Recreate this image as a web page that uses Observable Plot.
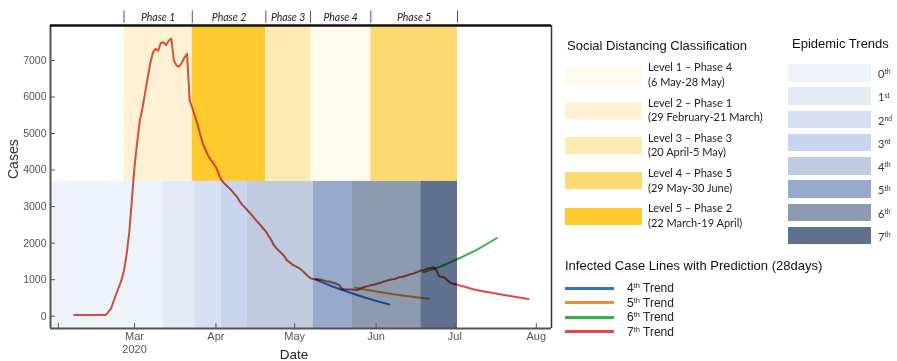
<!DOCTYPE html>
<html><head><meta charset="utf-8">
<script src="https://cdn.jsdelivr.net/npm/d3@7"></script>
<script src="https://cdn.jsdelivr.net/npm/@observablehq/plot@0.6"></script>
<style>
body{margin:0;background:#fff;}
#wrap{position:relative;width:897px;height:361px;overflow:hidden;font-family:"Liberation Sans",Arial,sans-serif;}
#chart{position:absolute;left:0;top:0;}
.title{position:absolute;font-size:13px;color:#111;white-space:nowrap;line-height:1;}
.sw{position:absolute;}
.lvl{position:absolute;font-family:Lato,"Open Sans",sans-serif;font-size:11px;line-height:14.6px;color:#222;white-space:nowrap;}
.tr{position:absolute;font-family:Lato,"Open Sans",sans-serif;font-size:11px;color:#333;white-space:nowrap;line-height:1;}
.ln{position:absolute;height:3px;}
.lnt{position:absolute;font-size:12px;color:#222;white-space:nowrap;line-height:1;}
sup{font-size:0.62em;line-height:0;vertical-align:baseline;position:relative;top:-0.55em;}
</style></head><body><div id="wrap"><div id="chart"></div><div id="legend"></div></div>
<script>
// ---- data ----
const caseDates = ["2020-02-07","2020-02-19","2020-02-21","2020-02-23","2020-02-25","2020-02-26","2020-02-27","2020-02-28","2020-02-29",
"2020-03-01","2020-03-02","2020-03-03","2020-03-04","2020-03-05","2020-03-06","2020-03-07","2020-03-08","2020-03-09","2020-03-10",
"2020-03-11","2020-03-12","2020-03-13","2020-03-14","2020-03-15","2020-03-16","2020-03-17","2020-03-18","2020-03-19","2020-03-20",
"2020-03-21","2020-03-22","2020-03-23","2020-03-24","2020-03-25","2020-03-26","2020-03-27","2020-03-28","2020-03-29","2020-03-30",
"2020-03-31","2020-04-01","2020-04-02","2020-04-03","2020-04-04","2020-04-05","2020-04-06","2020-04-07","2020-04-08","2020-04-09",
"2020-04-10","2020-04-11","2020-04-12","2020-04-13","2020-04-14","2020-04-15","2020-04-16","2020-04-17","2020-04-18","2020-04-19",
"2020-04-20","2020-04-21","2020-04-22","2020-04-23","2020-04-24","2020-04-25","2020-04-26","2020-04-27","2020-04-28","2020-04-29",
"2020-04-30","2020-05-01","2020-05-02","2020-05-03","2020-05-04","2020-05-05","2020-05-06","2020-05-07","2020-05-08","2020-05-09",
"2020-05-10","2020-05-11","2020-05-12","2020-05-13","2020-05-14","2020-05-15","2020-05-16","2020-05-17","2020-05-18","2020-05-19",
"2020-05-20","2020-05-21","2020-05-22","2020-05-23","2020-05-24","2020-05-25","2020-05-26","2020-05-27","2020-05-28","2020-05-29",
"2020-05-30","2020-05-31","2020-06-01","2020-06-02","2020-06-03","2020-06-04","2020-06-05","2020-06-06","2020-06-07","2020-06-08",
"2020-06-09","2020-06-10","2020-06-11","2020-06-12","2020-06-13","2020-06-14","2020-06-15","2020-06-16","2020-06-17","2020-06-18",
"2020-06-19","2020-06-20","2020-06-21","2020-06-22","2020-06-23","2020-06-24","2020-06-25","2020-06-26","2020-06-27","2020-06-28",
"2020-06-29","2020-06-30","2020-07-01"];
const caseValues = [30,30,200,600,980,1250,1700,2300,3200,
4100,4750,5350,5680,6100,6520,6920,7220,7320,7270,
7480,7500,7420,7540,7600,7000,6860,6830,6940,7080,
7180,5900,5700,5480,5250,4980,4720,4560,4400,4280,
4190,4080,3900,3740,3650,3580,3510,3440,3350,3270,
3150,3050,2980,2900,2820,2740,2650,2570,2490,2400,
2320,2200,2100,1950,1860,1790,1720,1650,1530,1480,
1420,1380,1340,1300,1240,1170,1100,1040,1020,1010,
1010,1000,980,960,950,930,910,880,850,750,
730,730,730,730,720,720,760,790,810,830,
850,860,880,900,920,950,970,990,1010,1020,
1040,1070,1080,1100,1120,1150,1160,1190,1220,1250,
1260,1290,1310,1320,1340,1250,1090,1070,1060,990,
930,900,870];

const trend4Dates = ["2020-05-09","2020-05-16","2020-05-23","2020-05-30","2020-06-06"];
const trend4Values = [1005,800,620,460,320];
const trend5Dates = ["2020-05-24","2020-05-31","2020-06-07","2020-06-14","2020-06-21"];
const trend5Values = [780,690,610,540,477];
const trend6Dates = ["2020-06-19","2020-06-26","2020-07-03","2020-07-10","2020-07-17"];
const trend6Values = [1205,1370,1600,1845,2140];
const trend7Dates = ["2020-07-01","2020-07-08","2020-07-15","2020-07-22","2020-07-29"];
const trend7Values = [880,740,640,550,470];

const phaseNames = ["Phase 1","Phase 2","Phase 3","Phase 4","Phase 5"];
const phaseStarts = ["2020-02-26","2020-03-23","2020-04-20","2020-05-07","2020-05-30"];
const phaseEnds   = ["2020-03-23","2020-04-20","2020-05-07","2020-05-30","2020-07-02"];
const phaseColors = ["#fff2d4","#ffca2f","#ffe9b2","#fffaec","#fdd972"];

const trendNames  = ["0th","1st","2nd","3rd","4th","5th","6th","7th"];
const trendStarts = ["2020-01-29","2020-03-12","2020-03-24","2020-04-03","2020-04-13","2020-05-08","2020-05-23","2020-06-18"];
const trendEnds   = ["2020-03-12","2020-03-24","2020-04-03","2020-04-13","2020-05-08","2020-05-23","2020-06-18","2020-07-02"];
const trendColors = ["#eef2fa","#e3e9f5","#d6e0f2","#c8d5ef","#c0cbe0","#97aacb","#8d9bb1","#60708f"];

const levelLabels = ["Level 1 \u2013 Phase 4","Level 2 \u2013 Phase 1","Level 3 \u2013 Phase 3","Level 4 \u2013 Phase 5","Level 5 \u2013 Phase 2"];
const levelRanges = ["(6 May-28 May)","(29 February-21 March)","(20 April-5 May)","(29 May-30 June)","(22 March-19 April)"];
const levelColors = ["#fffaec","#fff2d4","#ffe9b2","#fdd972","#ffca2f"];

const predNames  = ["4","5","6","7"];
const predColors = ["#2e78b9","#f28a36","#3cae4a","#e5464a"];
const mainColor = "#d4573f";

const yTicks = [0,1000,2000,3000,4000,5000,6000,7000];
const xTickDates = ["2020-02-01","2020-03-01","2020-04-01","2020-05-01","2020-06-01","2020-07-01","2020-08-01"];
const xTickLabels = ["","Mar\n2020","Apr","May","Jun","Jul","Aug"];

const xDomain = [new Date("2020-01-29"), new Date("2020-08-06T19:00Z")];
const yDomain = [-337, 7958];
const bandSplit = 3690;

// ---- build ----
const P = s => new Date(s);
const mk = (ds,vs)=>ds.map((d,i)=>({date:P(d), v:vs[i]}));
const cases = mk(caseDates, caseValues);
const preds = [mk(trend4Dates,trend4Values),mk(trend5Dates,trend5Values),mk(trend6Dates,trend6Values),mk(trend7Dates,trend7Values)];
const phases = phaseNames.map((n,i)=>({n, s:P(phaseStarts[i]), e:P(phaseEnds[i]), c:phaseColors[i], m:new Date((P(phaseStarts[i]).getTime()+P(phaseEnds[i]).getTime())/2)}));
const trends = trendNames.map((n,i)=>({n, s:P(trendStarts[i]), e:P(trendEnds[i]), c:trendColors[i]}));
const seps = [...phaseStarts, phaseEnds[phaseEnds.length-1]].map(P);
const xTicks = xTickDates.map(P);
const yTop = yDomain[1];

const chart = Plot.plot({
  width: 897, height: 361,
  marginLeft: 50, marginRight: 346, marginTop: 25, marginBottom: 33,
  style: {fontFamily: '"Liberation Sans", Arial, sans-serif', background: "transparent", overflow: "visible"},
  x: {type: "utc", domain: xDomain},
  y: {domain: yDomain},
  marks: [
    Plot.rect(phases, {x1:"s", x2:"e", y1: bandSplit, y2: yTop, fill: "c"}),
    Plot.rect(trends, {x1:"s", x2:"e", y1: yDomain[0], y2: bandSplit, fill: "c"}),
    Plot.line(cases, {x:"date", y:"v", stroke: mainColor, strokeWidth: 2, mixBlendMode: "multiply"}),
    ...preds.map((p,i)=>Plot.line(p, {x:"date", y:"v", stroke: predColors[i], strokeWidth: 2, curve: "natural", mixBlendMode: "multiply"})),
    Plot.ruleX(seps, {x: d=>d, y1: yTop + 60, y2: yTop + 400, stroke: "#555", strokeWidth: 1}),
    Plot.text(phases, {x:"m", text:"n", frameAnchor:"top", lineAnchor:"middle", dy:-8, fontStyle:"italic", fontFamily:"Lato, 'Open Sans', sans-serif", fontSize: 10.5, fill:"#222"}),
    Plot.ruleX([xDomain[0]], {stroke:"#555", strokeWidth: 2}),
    Plot.ruleY([yDomain[0]], {stroke:"#555", strokeWidth: 2}),
    Plot.ruleX([xDomain[1]], {stroke:"#333", strokeWidth: 1.5}),
    Plot.ruleY([yTop], {stroke:"#111", strokeWidth: 2.5}),
    Plot.axisY(yTicks, {tickSize: -5, tickFormat: () => "", label: null, stroke: "#555"}),
    Plot.axisY(yTicks, {tickSize: 0, tickPadding: 4, label: null, fontSize: 10.5, fill: "#555", tickFormat: d => String(d)}),
    Plot.axisX(xTicks, {tickSize: -5, tickFormat: () => "", label: null, stroke: "#555"}),
    Plot.axisX(xTicks, {tickSize: 0, tickPadding: 3, label: null, fontSize: 11, fill: "#555", lineHeight: 1.15, tickFormat: (d,i) => xTickLabels[i]}),
    Plot.text(["Date"], {frameAnchor: "bottom", lineAnchor: "middle", dy: 26, dx: -7, fontSize: 13.5, fill: "#222"}),
    Plot.text(["Cases"], {frameAnchor: "left", dx: -37, dy: 2, rotate: -90, fontSize: 14, fill: "#333"})
  ]
});
document.getElementById("chart").appendChild(chart);

// ---- legends ----
const lg = document.getElementById("legend");
function add(cls, style, html){ const d=document.createElement("div"); d.className=cls; Object.assign(d.style, style); if(html!=null) d.innerHTML=html; lg.appendChild(d); return d; }
add("title", {left:"567px", top:"39px"}, "Social Distancing Classification");
levelLabels.forEach((t,i)=>{
  const top = 66.7 + i*35.2;
  add("sw", {left:"565px", top: top+"px", width:"77px", height:"17px", background: levelColors[i]});
  add("lvl", {left:"648px", top:(top-6.3)+"px"}, t + "<br>" + levelRanges[i]);
});
add("title", {left:"792px", top:"37px"}, "Epidemic Trends");
trendNames.forEach((t,i)=>{
  const top = 64 + i*23.25;
  add("sw", {left:"788px", top: top+"px", width:"83px", height:"17.5px", background: trendColors[i]});
  add("tr", {left:"878px", top:(top+4)+"px"}, t.slice(0,1) + "<sup>" + t.slice(1) + "</sup>");
});
add("title", {left:"565px", top:"258.5px"}, "Infected Case Lines with Prediction (28days)");
predNames.forEach((t,i)=>{
  const y = 288.3 + i*14.5;
  add("ln", {left:"565px", top:(y-1.5)+"px", width:"49px", background: predColors[i]});
  add("lnt", {left:"627px", top:(y-6)+"px"}, t + "<sup>th</sup> Trend");
});
</script>
</body></html>
